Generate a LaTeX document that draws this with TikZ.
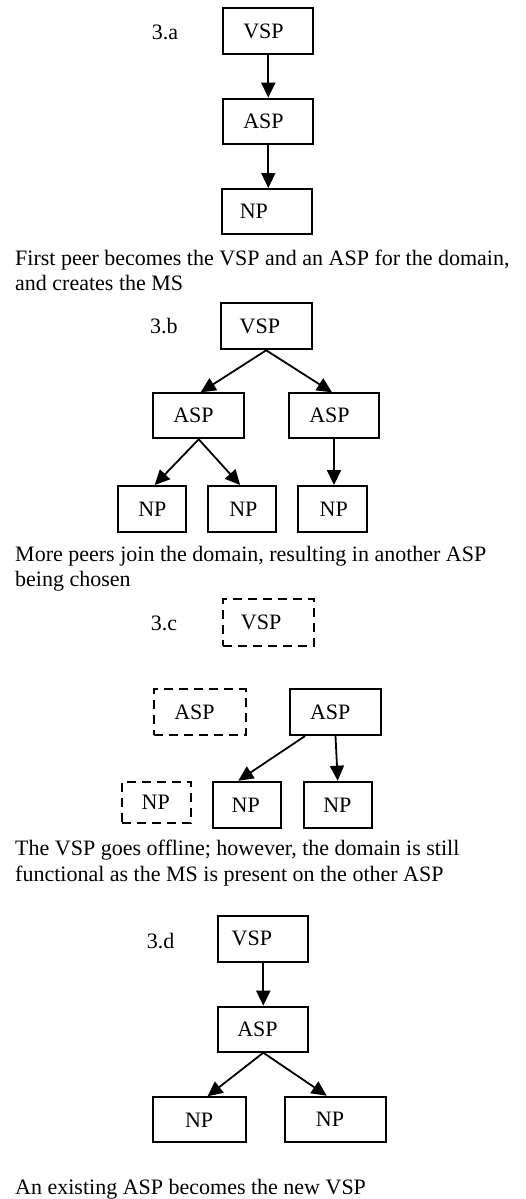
\documentclass[tikz,border=0pt]{standalone}
\usepackage{fontspec}
\setmainfont{Liberation Serif}
\usetikzlibrary{arrows.meta}
% box caption: a fixed-width line with the text set at a left inset
\newcommand\inbox[3]{\makebox[#1pt][l]{\hspace{#2pt}#3}}
\begin{document}
\begin{tikzpicture}[x=1pt,y=-1pt,
  font=\fontsize{22}{26}\selectfont,
  peer/.style={draw, line width=2pt, inner sep=0pt, rectangle},
  offpeer/.style={peer, dash pattern=on 9pt off 6pt},
  link/.style={line width=1.8pt, -{Triangle[length=15pt,width=14pt]}},
  tag/.style={anchor=base west, inner sep=0pt},
  caption/.style={anchor=base west, inner sep=0pt}]
\useasboundingbox (0,0) rectangle (526,1199);

% ---- 3.a : single chain
\node[tag] (la) at (151.7,39.3) {3.a};
\node[peer, minimum width=90, minimum height=45.7] (a1) at (268.3,31.2) {\inbox{90}{20}{VSP}};
\node[peer, minimum width=90, minimum height=45.3] (a2) at (268.3,121.3) {\inbox{90}{20}{ASP}};
\node[peer, minimum width=90, minimum height=45] (a3) at (266.8,211.5) {\inbox{90}{18}{NP}};
\draw[link] (a1.south) -- (a2.north);
\draw[link] (a2.south) -- (a2.south |- a3.north);
\node[caption] (ca1) at (15,265.3) {First peer becomes the VSP and an ASP for the domain,};
\node[caption] (ca2) at (15,290.3) {and creates the MS};

% ---- 3.b : a second ASP joins
\node[tag] (lb) at (150,333.3) {3.b};
\node[peer, minimum width=91, minimum height=46] (b1) at (266.2,326.3) {\inbox{91}{19}{VSP}};
\node[peer, minimum width=90.7, minimum height=45] (b2) at (198.7,415.8) {\inbox{90.7}{20}{ASP}};
\node[peer, minimum width=90.6, minimum height=45] (b3) at (334,415.8) {\inbox{90.6}{20.6}{ASP}};
\node[peer, minimum width=68, minimum height=46.3] (b4) at (151.7,509.2) {\inbox{68}{20.6}{NP}};
\node[peer, minimum width=67.7, minimum height=46.3] (b5) at (242.2,509.2) {\inbox{67.7}{21}{NP}};
\node[peer, minimum width=69, minimum height=46.3] (b6) at (332.2,509.2) {\inbox{69}{22}{NP}};
\draw[link] (b1.south) -- ([xshift=2]b2.north);
\draw[link] (b1.south) -- ([xshift=-2]b3.north);
\draw[link] (b2.south) -- ([xshift=3]b4.north);
\draw[link] (b2.south) -- ([xshift=-2]b5.north);
\draw[link] (b3.south) -- (b3.south |- b6.north);
\node[caption] (cb1) at (15,561) {More peers join the domain, resulting in another ASP};
\node[caption] (cb2) at (15,586) {being chosen};

% ---- 3.c : the VSP goes offline
\node[tag] (lc) at (150.7,630.7) {3.c};
\node[offpeer, minimum width=91.3, minimum height=46.4] (c1) at (268.3,622.5) {\inbox{91.3}{18.3}{VSP}};
\node[offpeer, minimum width=91.7, minimum height=45.7] (c2) at (200.2,712.2) {\inbox{91.7}{20}{ASP}};
\node[peer, minimum width=90.4, minimum height=45.7] (c3) at (335.5,712.2) {\inbox{90.4}{19.7}{ASP}};
\node[offpeer, minimum width=68.4, minimum height=41.6] (c4) at (156.5,802.5) {\inbox{68.4}{19.4}{NP}};
\node[peer, minimum width=68, minimum height=46.6] (c5) at (247.3,805) {\inbox{68}{18.4}{NP}};
\node[peer, minimum width=68, minimum height=46.6] (c6) at (337.7,805) {\inbox{68}{19.6}{NP}};
\draw[link] ([xshift=-30.5]c3.south) -- ([xshift=-9]c5.north);
\draw[link] (c3.south) -- (c6.north);
\node[caption] (cc1) at (15,855.3) {The VSP goes offline; however, the domain is still};
\node[caption] (cc2) at (15,881.3) {functional as the MS is present on the other ASP};

% ---- 3.d : an ASP takes over as VSP
\node[tag] (ld) at (146.7,948.3) {3.d};
\node[peer, minimum width=90, minimum height=45.7] (d1) at (263.3,938.8) {\inbox{90}{13.4}{VSP}};
\node[peer, minimum width=90, minimum height=45] (d2) at (263.3,1029.2) {\inbox{90}{19}{ASP}};
\node[peer, minimum width=92.4, minimum height=45] (d3) at (199.5,1119.8) {\inbox{92.4}{31.7}{NP}};
\node[peer, minimum width=100.7, minimum height=45] (d4) at (335.3,1119.2) {\inbox{100.7}{31}{NP}};
\draw[link] (d1.south) -- (d2.north);
\draw[link] (d2.south) -- ([xshift=8]d3.north);
\draw[link] (d2.south) -- ([xshift=-8.6]d4.north);
\node[caption] (cd1) at (15,1194.3) {An existing ASP becomes the new VSP};
\end{tikzpicture}
\end{document}
